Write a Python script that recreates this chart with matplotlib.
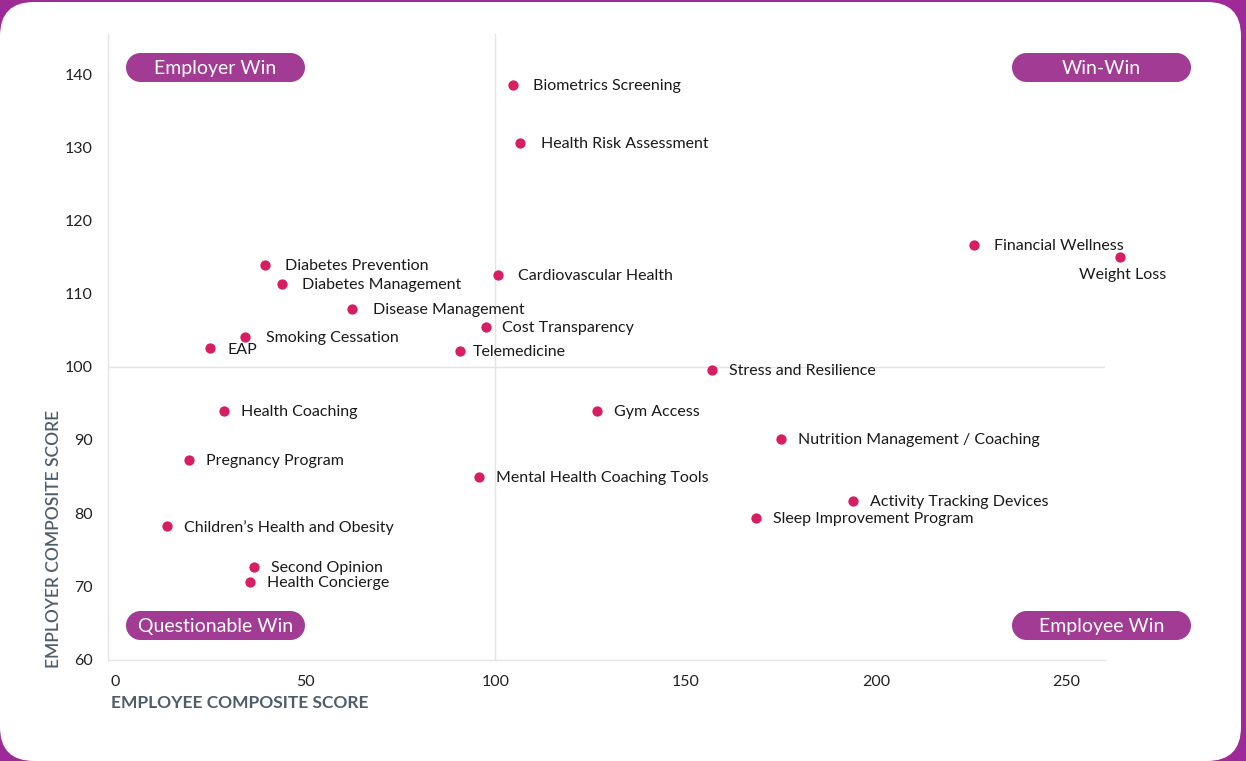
import numpy as np
import matplotlib.pyplot as plt
from matplotlib.patches import FancyBboxPatch, Polygon
from matplotlib.transforms import IdentityTransform

# benefit programs: employee score (x) vs employer score (y)
programs = ["Biometrics Screening", "Health Risk Assessment", "Financial Wellness",
            "Weight Loss", "Diabetes Prevention", "Diabetes Management",
            "Cardiovascular Health", "Disease Management", "Cost Transparency",
            "Smoking Cessation", "EAP", "Telemedicine", "Stress and Resilience",
            "Health Coaching", "Gym Access", "Nutrition Management / Coaching",
            "Pregnancy Program", "Mental Health Coaching Tools",
            "Activity Tracking Devices", "Sleep Improvement Program",
            "Children’s Health and Obesity", "Second Opinion", "Health Concierge"]
employee = [104.6, 106.4, 225.8, 264.1, 39.4, 43.9, 100.7, 62.3, 97.5, 34.2, 25.0,
            90.7, 156.9, 28.6, 126.7, 175.0, 19.4, 95.7, 194.0, 168.5, 13.7, 36.5, 35.5]
employer = [138.5, 130.6, 116.6, 115.0, 113.9, 111.3, 112.5, 107.9, 105.4, 104.0,
            102.5, 102.2, 99.5, 94.0, 93.9, 90.1, 87.2, 84.9, 81.7, 79.3, 78.2,
            72.6, 70.5]
xticks = [0, 50, 100, 150, 200, 250]
yticks = [60, 70, 80, 90, 100, 110, 120, 130, 140]
quadrants = ["Employer Win", "Win-Win", "Questionable Win", "Employee Win"]

# label offsets in pixels (default 17, -1)
offsets = {"Biometrics Screening": (20, -1), "Health Risk Assessment": (21, -1),
           "Financial Wellness": (20, -1), "Diabetes Prevention": (20, -1),
           "Diabetes Management": (20, -1), "Cardiovascular Health": (20, -1),
           "Disease Management": (21, -1), "Smoking Cessation": (21, -1),
           "Telemedicine": (13, -1), "Cost Transparency": (16, -1), "EAP": (18, -2)}

PINK = "#d81e62"
PURPLE = "#a23b93"
GRID = "#e4e4e4"
plt.rcParams['font.family'] = ['Lato', 'DejaVu Sans']


def pill(x0, y0, w, h):
    # stadium shape in pixels, bottom-left origin
    r = h / 2
    t = np.linspace(-np.pi / 2, np.pi / 2, 40)
    right = np.column_stack([x0 + w - r + r * np.cos(t), y0 + r + r * np.sin(t)])
    left = np.column_stack([x0 + r - r * np.cos(t), y0 + r - r * np.sin(t)])
    return np.vstack([right, left])


fig = plt.figure(figsize=(12.46, 7.61), dpi=100, facecolor="#9e2a98")
W, H = 1246, 761
card = FancyBboxPatch((0, 0), 1241, 759, boxstyle="round,pad=0,rounding_size=34",
                      transform=IdentityTransform(), facecolor="white", edgecolor="none",
                      zorder=-5)
fig.add_artist(card)

ax = fig.add_axes([108 / W, 1 - 660 / H, 997 / W, 626 / H])
ax.set_facecolor("none")
ax.set_xlim(-1.8, 260.2)
ax.set_ylim(59.9, 145.5)

for s in ["top", "right"]:
    ax.spines[s].set_visible(False)
for s in ["left", "bottom"]:
    ax.spines[s].set_color(GRID)
    ax.spines[s].set_linewidth(1)
ax.axvline(100, color=GRID, lw=1, zorder=0)
ax.axhline(100, color=GRID, lw=1, zorder=0)

ax.set_xticks(xticks)
ax.set_yticks(yticks)
ax.tick_params(length=0, labelsize=11.5, colors="#222222")
ax.tick_params(axis="x", pad=11)
ax.tick_params(axis="y", pad=11)

ax.scatter(employee, employer, s=55, color=PINK, zorder=3, clip_on=False, linewidths=0)

for name, x, y in zip(programs, employee, employer):
    if name == "Weight Loss":
        ax.annotate(name, (x, y), xytext=(3, -18), textcoords="offset pixels",
                    ha="center", va="center", fontsize=11.5, color="#1a1a1a",
                    annotation_clip=False)
        continue
    dx, dy = offsets.get(name, (17, -1))
    ax.annotate(name, (x, y), xytext=(dx, dy), textcoords="offset pixels",
                ha="left", va="center", fontsize=11.5, color="#1a1a1a",
                annotation_clip=False)

ax.set_xlabel("EMPLOYEE COMPOSITE SCORE", loc="left", fontsize=12.5, color="#4f5d6b",
              fontweight="bold")
ax.set_ylabel("EMPLOYER COMPOSITE SCORE", loc="bottom", fontsize=12.5, color="#4f5d6b",
              fontweight="semibold")
ax.xaxis.set_label_coords(0.003, -0.056)
ax.yaxis.set_label_coords(-0.046, -0.013)

# quadrant pills (pixel boxes, top-left origin)
pills = [(126, 53), (1012, 53), (126, 611), (1012, 611)]
for label, (px, py) in zip(quadrants, pills):
    w, h = 179, 29
    fig.add_artist(Polygon(pill(px, H - py - h, w, h), closed=True,
                           transform=IdentityTransform(), facecolor=PURPLE,
                           edgecolor="none", zorder=5))
    fig.text((px + w / 2) / W, (H - py - h / 2 - 1) / H, label, ha="center",
             va="center", fontsize=14, color="white", zorder=6)

fig.savefig("out.png", dpi=100, facecolor=fig.get_facecolor())
